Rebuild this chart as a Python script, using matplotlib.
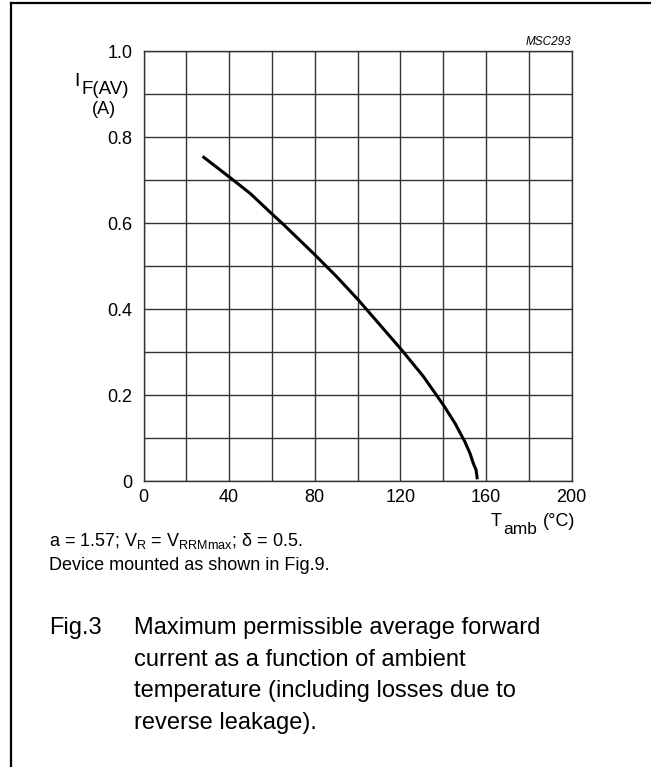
import matplotlib
matplotlib.use("Agg")
import matplotlib.pyplot as plt
from matplotlib.lines import Line2D

# curve
t_amb = [27.6, 40.1, 49.8, 60.7, 65.3, 80.1, 90.3, 100.4, 110.5, 120.6,
         130.8, 140.1, 145.6, 150.2, 152.6, 154.1, 155.4, 156.0]
i_fav = [0.755, 0.707, 0.669, 0.618, 0.597, 0.526, 0.475, 0.421, 0.363, 0.305,
         0.243, 0.177, 0.134, 0.091, 0.064, 0.041, 0.026, 0.004]

x_ticks = [0, 40, 80, 120, 160, 200]
x_minor = [20, 60, 100, 140, 180]
y_ticks = [0, 0.2, 0.4, 0.6, 0.8, 1.0]
y_labels = ["0", "0.2", "0.4", "0.6", "0.8", "1.0"]
y_minor = [0.1, 0.3, 0.5, 0.7, 0.9]

plt.rcParams['font.family'] = ['Liberation Sans', 'DejaVu Sans']
plt.rcParams['mathtext.fontset'] = 'custom'
plt.rcParams['mathtext.rm'] = 'Liberation Sans'
plt.rcParams['mathtext.it'] = 'Liberation Sans:italic'

W, H = 651, 767
fig = plt.figure(figsize=(W / 100, H / 100), dpi=100)

def fx(px):
    return px / W

def fy(py):
    return 1 - py / H

# frame of the figure box (top and left only)
fig.add_artist(Line2D([fx(11), fx(651)], [fy(3), fy(3)], color='black', lw=1.6))
fig.add_artist(Line2D([fx(11), fx(11)], [fy(3), fy(767)], color='black', lw=1.6))

ax = fig.add_axes([fx(143.5), fy(481), fx(571.5) - fx(143.5), fy(51) - fy(481)])
ax.plot(t_amb, i_fav, color='black', lw=2.2, solid_capstyle='butt')

ax.set_xlim(0, 200)
ax.set_ylim(0, 1.0)
ax.set_xticks(x_ticks)
ax.set_xticks(x_minor, minor=True)
ax.set_yticks(y_ticks)
ax.set_yticklabels(y_labels)
ax.set_yticks(y_minor, minor=True)
ax.grid(True, which='both', color='#333333', lw=1.0)
ax.tick_params(which='both', length=0, labelsize=13)
ax.tick_params(axis='x', pad=6)
ax.tick_params(axis='y', pad=8)
for s in ax.spines.values():
    s.set_color('#333333')
    s.set_linewidth(1.0)

# y axis label, subscript kept nearly full size like the datasheet
fig.text(fx(129), fy(90), 'F(AV)', fontsize=13.5, ha='right', va='center')
fig.text(fx(80), fy(82), 'I', fontsize=14, ha='right', va='center')
fig.text(fx(104), fy(110), '(A)', fontsize=13, ha='center', va='center')

# x axis label
fig.text(fx(491), fy(521), 'T', fontsize=13, ha='left', va='center')
fig.text(fx(503), fy(529), 'amb', fontsize=12.5, ha='left', va='center')
fig.text(fx(575), fy(522), '(°C)', fontsize=13, ha='right', va='center')

fig.text(fx(571), fy(42), 'MSC293', fontsize=8.5, style='italic', ha='right', va='center')

# notes under the chart
fig.text(fx(49), fy(541), r'a = 1.57; V$\mathregular{_R}$ = V$\mathregular{_{RRMmax}}$; $\mathregular{\delta}$ = 0.5.',
         fontsize=13, ha='left', va='center')
fig.text(fx(49), fy(565), 'Device mounted as shown in Fig.9.', fontsize=13, ha='left', va='center')

caption = ["Maximum permissible average forward",
           "current as a function of ambient",
           "temperature (including losses due to",
           "reverse leakage)."]
fig.text(fx(49), fy(628), 'Fig.3', fontsize=17, ha='left', va='center')
for k, line in enumerate(caption):
    fig.text(fx(134), fy(628 + 31.7 * k), line, fontsize=17, ha='left', va='center')

fig.savefig('out.png', dpi=100)
